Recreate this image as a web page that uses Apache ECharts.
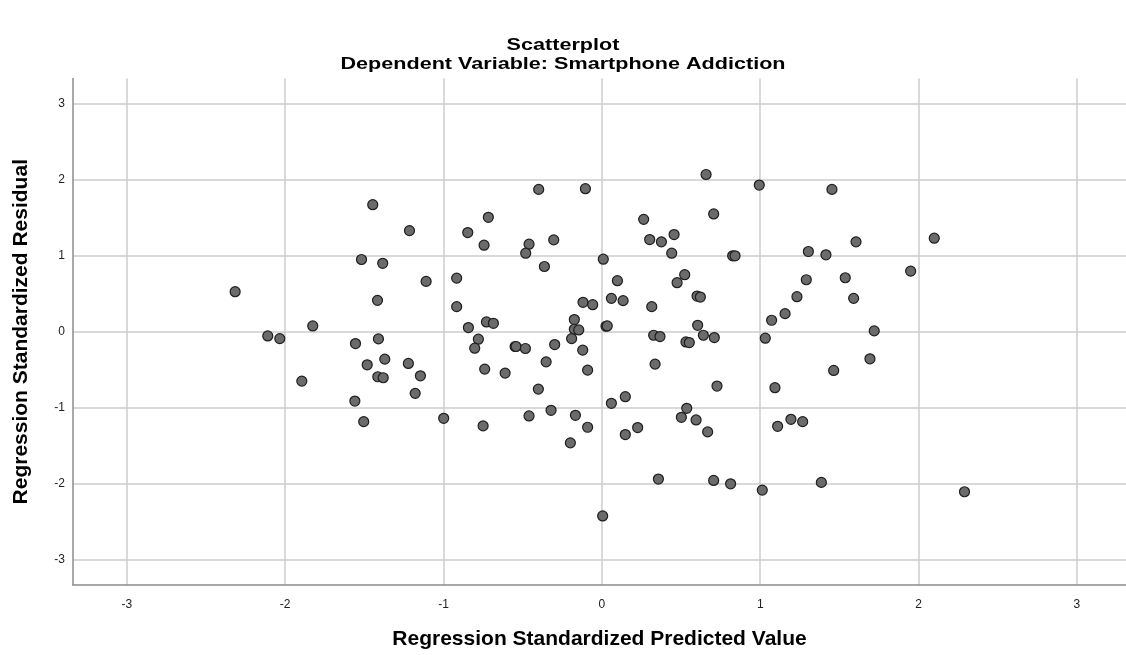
<!DOCTYPE html>
<html>
<head>
<meta charset="utf-8">
<script src="https://cdn.jsdelivr.net/npm/echarts@6/dist/echarts.min.js"></script>
<style>
html,body{margin:0;padding:0;background:#fff;}
#chart{width:1126px;height:655px;}
</style>
</head>
<body>
<div id="chart"></div>
<script>
var titleText = "Scatterplot";
var subtitleText = "Dependent Variable: Smartphone Addiction";
var xAxisName = "Regression Standardized Predicted Value";
var yAxisName = "Regression Standardized Residual";
var xTicks = [-3, -2, -1, 0, 1, 2, 3];
var yTicks = [-3, -2, -1, 0, 1, 2, 3];

var predicted = [
 -2.316,-2.11,-2.034,-1.826,-1.518,-1.447,-1.215,-1.384,-1.11,-1.417,
 -1.411,-0.917,-0.917,-0.847,-0.744,-0.717,-0.843,-0.729,-0.685,-0.78,
 -0.399,-0.104,-0.46,-0.481,-0.304,-0.363,0.009,0.098,0.06,0.134,
 -0.119,-0.058,-0.174,-0.174,-0.146,-0.191,0.026,0.034,0.264,0.302,
 0.376,0.456,0.441,0.658,0.706,0.994,0.826,0.841,1.453,1.304,
 1.415,1.605,1.95,0.523,0.475,0.315,0.601,0.622,0.605,1.291,
 1.537,1.232,1.59,1.157,1.072,1.72,0.327,0.367,0.531,0.552,
 0.641,0.71,1.032,2.099,-1.895,-1.556,-1.56,-1.504,-1.482,-1.371,
 -1.415,-1.381,-1.222,-1.146,-1.179,-0.999,-0.803,-0.74,-0.611,-0.548,
 -0.542,-0.483,-0.298,-0.352,-0.401,-0.121,-0.09,-0.46,-0.321,-0.75,
 -0.167,-0.199,-0.09,0.005,0.06,0.148,0.148,0.226,0.336,0.727,
 0.536,0.502,0.595,0.668,0.357,0.706,0.813,1.013,1.386,1.093,
 1.11,1.194,1.268,1.464,1.693,2.29
];
var residual = [
 0.527,-0.055,-0.09,0.076,0.95,1.671,1.33,0.9,0.662,0.413,
 -0.094,0.705,0.33,1.304,1.138,1.505,0.055,0.129,0.111,-0.098,
 1.872,1.881,1.151,1.033,1.208,0.858,0.954,0.671,0.439,0.409,
 0.387,0.356,0.16,0.033,0.024,-0.09,0.072,0.076,1.478,1.212,
 1.182,1.278,1.033,2.068,1.549,1.929,0.999,0.999,1.872,1.055,
 1.012,1.182,0.797,0.75,0.645,0.33,0.469,0.456,0.085,0.684,
 0.71,0.461,0.439,0.238,0.151,0.011,-0.046,-0.063,-0.134,-0.142,
 -0.046,-0.076,-0.085,1.23,-0.649,-0.155,-0.911,-1.182,-0.435,-0.36,
 -0.592,-0.605,-0.417,-0.579,-0.81,-1.138,-0.216,-0.491,-0.544,-0.194,
 -0.194,-0.22,-0.168,-0.396,-0.754,-0.242,-0.505,-1.107,-1.033,-1.238,
 -1.099,-1.461,-1.256,-2.422,-0.941,-0.854,-1.352,-1.26,-0.426,-0.714,
 -1.007,-1.125,-1.16,-1.317,-1.937,-1.955,-1.999,-2.082,-1.981,-0.736,
 -1.243,-1.151,-1.182,-0.509,-0.356,-2.104
];

var points = predicted.map(function(x, i){ return [x, residual[i]]; });

var chart = echarts.init(document.getElementById('chart'), null, {renderer:'canvas'});
var gridColor = '#cdcdcd';
var axisColor = '#8c8c8c';
var fontFam = '"Liberation Sans", Arial, sans-serif';

function titleGraphic(text, y) {
  return {
    type: 'text', x: 563, y: y, scaleX: 1.27, scaleY: 1, silent: true,
    style: {
      text: text, fill: '#000',
      fontFamily: fontFam, fontWeight: 'bold', fontSize: 17,
      align: 'center', verticalAlign: 'middle',
      textAlign: 'center', textVerticalAlign: 'middle'
    }
  };
}

chart.setOption({
  backgroundColor: '#ffffff',
  animation: false,
  graphic: [
    titleGraphic(titleText, 45),
    titleGraphic(subtitleText, 64)
  ],
  grid: {left: 73, right: 0, top: 78.5, bottom: 68.5, containLabel: false},
  xAxis: {
    type: 'value', min: -3.34, max: 3.31,
    name: xAxisName, nameLocation: 'middle', nameGap: 44,
    nameTextStyle: {fontFamily: fontFam, fontWeight:'bold', fontSize:21, color:'#000'},
    axisLine: {show:true, onZero:false, lineStyle:{color: axisColor, width:1.5}},
    axisTick: {show:false, customValues: xTicks},
    axisLabel: {customValues: xTicks, margin: 14, fontFamily: fontFam, fontSize: 12, color:'#222'},
    splitLine: {show:true, lineStyle:{color: gridColor, width:1.5}}
  },
  yAxis: {
    type: 'value', min: -3.33, max: 3.33,
    name: yAxisName, nameLocation: 'middle', nameGap: 41, nameRotate: 90,
    nameTextStyle: {fontFamily: fontFam, fontWeight:'bold', fontSize:21, color:'#000'},
    axisLine: {show:true, onZero:false, lineStyle:{color: axisColor, width:1.5}},
    axisTick: {show:false, customValues: yTicks},
    axisLabel: {customValues: yTicks, margin: 8, fontFamily: fontFam, fontSize: 12, color:'#222'},
    splitLine: {show:true, lineStyle:{color: gridColor, width:1.5}}
  },
  series: [{
    type: 'scatter',
    data: points,
    symbol: 'circle',
    symbolSize: 10,
    itemStyle: {color:'#6b6b6b', borderColor:'#1e1e1e', borderWidth:1.2, opacity:1}
  }]
});
</script>
</body>
</html>
